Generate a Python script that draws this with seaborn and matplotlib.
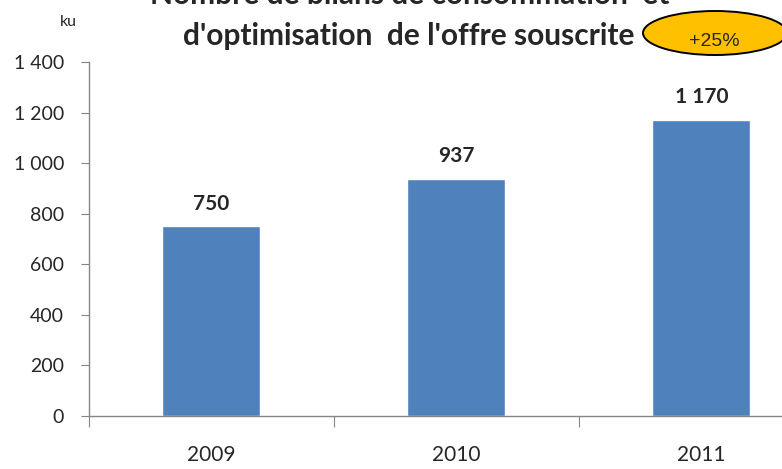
import matplotlib
matplotlib.use("Agg")
import matplotlib.pyplot as plt
import seaborn as sns
import pandas as pd
from matplotlib.patches import Ellipse
from matplotlib.ticker import FuncFormatter, FixedLocator

# =========================================================
# DATA
# =========================================================
years = ["2009", "2010", "2011"]
values = [750, 937, 1170]
value_labels = ["750", "937", "1 170"]
title_lines = ["Nombre de bilans de consommation  et",
               "d'optimisation  de l'offre souscrite"]
unit_label = "ku"
growth_label = "+25%"

df = pd.DataFrame({"year": years, "value": values})

# =========================================================
# STYLE
# =========================================================
sns.set_style("white")
plt.rcParams["font.family"] = ["Lato", "DejaVu Sans"]

BAR_COLOR = "#4F81BD"
AXIS_COLOR = "#868686"

fig = plt.figure(figsize=(7.82, 4.69), dpi=100)
ax = fig.add_axes([89 / 782, 53 / 469, 735 / 782, 354 / 469])

sns.barplot(data=df, x="year", y="value", color=BAR_COLOR, width=0.4,
            saturation=1, ax=ax)

ax.set_xlim(-0.5, 2.5)
ax.set_ylim(0, 1400)
ax.set_xlabel("")
ax.set_ylabel("")

# y axis
ax.set_yticks(range(0, 1401, 200))
ax.yaxis.set_major_formatter(FuncFormatter(lambda v, p: f"{int(v):,}".replace(",", " ")))
ax.tick_params(axis="y", direction="out", length=6, color=AXIS_COLOR,
               labelsize=14, pad=12, left=True)

# x axis: ticks between categories, labels centred
ax.xaxis.set_major_locator(FixedLocator([-0.5, 0.5, 1.5]))
ax.xaxis.set_major_formatter(FuncFormatter(lambda v, p: ""))
ax.xaxis.set_minor_locator(FixedLocator([0, 1, 2]))
ax.set_xticklabels(years, minor=True)
ax.tick_params(axis="x", which="major", direction="out", length=8,
               color=AXIS_COLOR, bottom=True)
ax.tick_params(axis="x", which="minor", length=0, labelsize=15, pad=21)

for side in ["top", "right"]:
    ax.spines[side].set_visible(False)
for side in ["left", "bottom"]:
    ax.spines[side].set_color(AXIS_COLOR)
    ax.spines[side].set_linewidth(1)

# value labels
for i, (v, lab) in enumerate(zip(values, value_labels)):
    ax.text(i, v + 90, lab, ha="center", va="center",
            fontsize=15, fontweight="bold")

# =========================================================
# TITLE, UNIT, GROWTH BUBBLE
# =========================================================
fig.text(410 / 782, 1 - 4 / 469, title_lines[0], ha="center", va="baseline",
         fontsize=21.5, fontweight="bold")
fig.text(409 / 782, 1 - 45 / 469, title_lines[1], ha="center", va="baseline",
         fontsize=21.5, fontweight="bold")
fig.text(68 / 782, 1 - 22 / 469, unit_label, ha="center", va="center", fontsize=11.5)

bubble = Ellipse((715 / 782, 1 - 33 / 469), 144 / 782, 44 / 469,
                 transform=fig.transFigure, facecolor="#FFC000",
                 edgecolor="black", linewidth=1.4, clip_on=False)
fig.patches.append(bubble)
fig.text(714 / 782, 1 - 41 / 469, growth_label, ha="center", va="center",
         fontsize=14, family=["Liberation Sans", "DejaVu Sans"])

fig.savefig("out.png", dpi=100)
